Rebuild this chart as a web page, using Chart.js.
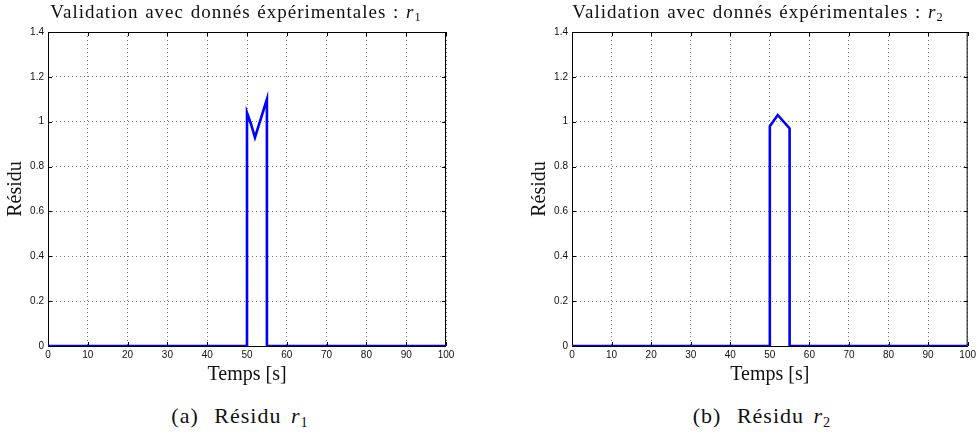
<!DOCTYPE html>
<html>
<head>
<meta charset="utf-8">
<script src="https://cdn.jsdelivr.net/npm/chart.js@4/dist/chart.umd.min.js"></script>
<style>
body { margin:0; background:#fff; width:979px; height:436px; position:relative; overflow:hidden; }
canvas { position:absolute; top:0; }
.txt { position:absolute; font-family:"Liberation Serif", serif; color:#111; white-space:nowrap; transform:translateX(-50%); }
.ttl { font-size:19px; top:1px; letter-spacing:1px; word-spacing:1px; }
.cap { font-size:22px; top:403px; letter-spacing:1px; word-spacing:3px; }
.cap .lbl { margin-right:6px; }
sub { font-size:0.65em; vertical-align:-0.25em; }
</style>
</head>
<body>
<canvas id="c1" width="470" height="390" style="left:0"></canvas>
<canvas id="c2" width="455" height="390" style="left:524px"></canvas>
<div class="txt ttl" style="left:236px">Validation avec donnés éxpérimentales : <i>r</i><sub>1</sub></div>
<div class="txt ttl" style="left:758px">Validation avec donnés éxpérimentales : <i>r</i><sub>2</sub></div>
<div class="txt cap" style="left:240px"><span class="lbl">(a)</span> Résidu <i>r</i><sub>1</sub></div>
<div class="txt cap" style="left:762px"><span class="lbl">(b)</span> Résidu <i>r</i><sub>2</sub></div>
<script>
// ---------------- DATA ----------------
const timeR1 = [0, 50, 50, 51, 52, 55, 55, 100];
const residuR1 = [0, 0, 1.04, 0.99, 0.93, 1.10, 0, 0];

const timeR2 = [0, 50, 50, 52, 55, 55, 100];
const residuR2 = [0, 0, 0.98, 1.03, 0.97, 0, 0];

const xTicks = [0, 10, 20, 30, 40, 50, 60, 70, 80, 90, 100];
const yTicks = [0, 0.2, 0.4, 0.6, 0.8, 1, 1.2, 1.4];

// cadre noir + petits ticks vers l'intérieur (style matlab)
const framePlugin = {
  id: "frame",
  beforeDatasetsDraw(chart) {
    const { ctx, chartArea: a, scales } = chart;
    ctx.save();
    ctx.strokeStyle = "#000";
    ctx.lineWidth = 1;
    ctx.strokeRect(a.left + 0.5, a.top + 0.5, a.right - a.left - 1, a.bottom - a.top);
    ctx.beginPath();
    xTicks.forEach(v => {
      const x = Math.round(scales.x.getPixelForValue(v)) + 0.5;
      ctx.moveTo(x, a.bottom); ctx.lineTo(x, a.bottom - 4);
      ctx.moveTo(x, a.top); ctx.lineTo(x, a.top + 4);
    });
    yTicks.forEach(v => {
      const y = Math.round(scales.y.getPixelForValue(v)) + 0.5;
      ctx.moveTo(a.left, y); ctx.lineTo(a.left + 4, y);
      ctx.moveTo(a.right, y); ctx.lineTo(a.right - 4, y);
    });
    ctx.stroke();
    ctx.restore();
  }
};

function makeChart(id, xs, ys, padRight) {
  const pts = xs.map((x, i) => ({ x: x, y: ys[i] }));
  return new Chart(document.getElementById(id), {
    type: "line",
    data: {
      datasets: [{
        data: pts,
        borderColor: "#0000ff",
        borderWidth: 2.6,
        pointRadius: 0,
        tension: 0,
        fill: false
      }]
    },
    options: {
      responsive: false,
      animation: false,
      layout: { padding: { top: 32, right: padRight, left: 0, bottom: 0 } },
      plugins: { legend: { display: false }, tooltip: { enabled: false } },
      scales: {
        x: {
          type: "linear",
          min: 0, max: 100,
          afterFit: s => { s.height = 44; },
          afterBuildTicks: s => { s.ticks = xTicks.map(v => ({ value: v })); },
          ticks: { color: "#111", padding: 3, maxRotation: 0, font: { family: "Liberation Sans", size: 10 } },
          grid: { color: "#777", lineWidth: 1, drawTicks: false },
          border: { display: false, dash: [1, 3] },
          title: { display: true, text: "Temps [s]", color: "#111", padding: { top: 0, bottom: 3 },
                   font: { family: "Liberation Serif", size: 20 } }
        },
        y: {
          min: 0, max: 1.4,
          afterFit: s => { s.width = 48; },
          afterBuildTicks: s => { s.ticks = yTicks.map(v => ({ value: v })); },
          ticks: { color: "#111", padding: 4, font: { family: "Liberation Sans", size: 10 },
                   callback: v => String(Math.round(v * 10) / 10) },
          grid: { color: "#777", lineWidth: 1, drawTicks: false },
          border: { display: false, dash: [1, 3] },
          title: { display: true, text: "Résidu", color: "#111", padding: { top: 4, bottom: 0 },
                   font: { family: "Liberation Serif", size: 20 } }
        }
      }
    },
    plugins: [framePlugin]
  });
}

makeChart("c1", timeR1, residuR1, 24);
makeChart("c2", timeR2, residuR2, 9);
</script>
</body>
</html>
